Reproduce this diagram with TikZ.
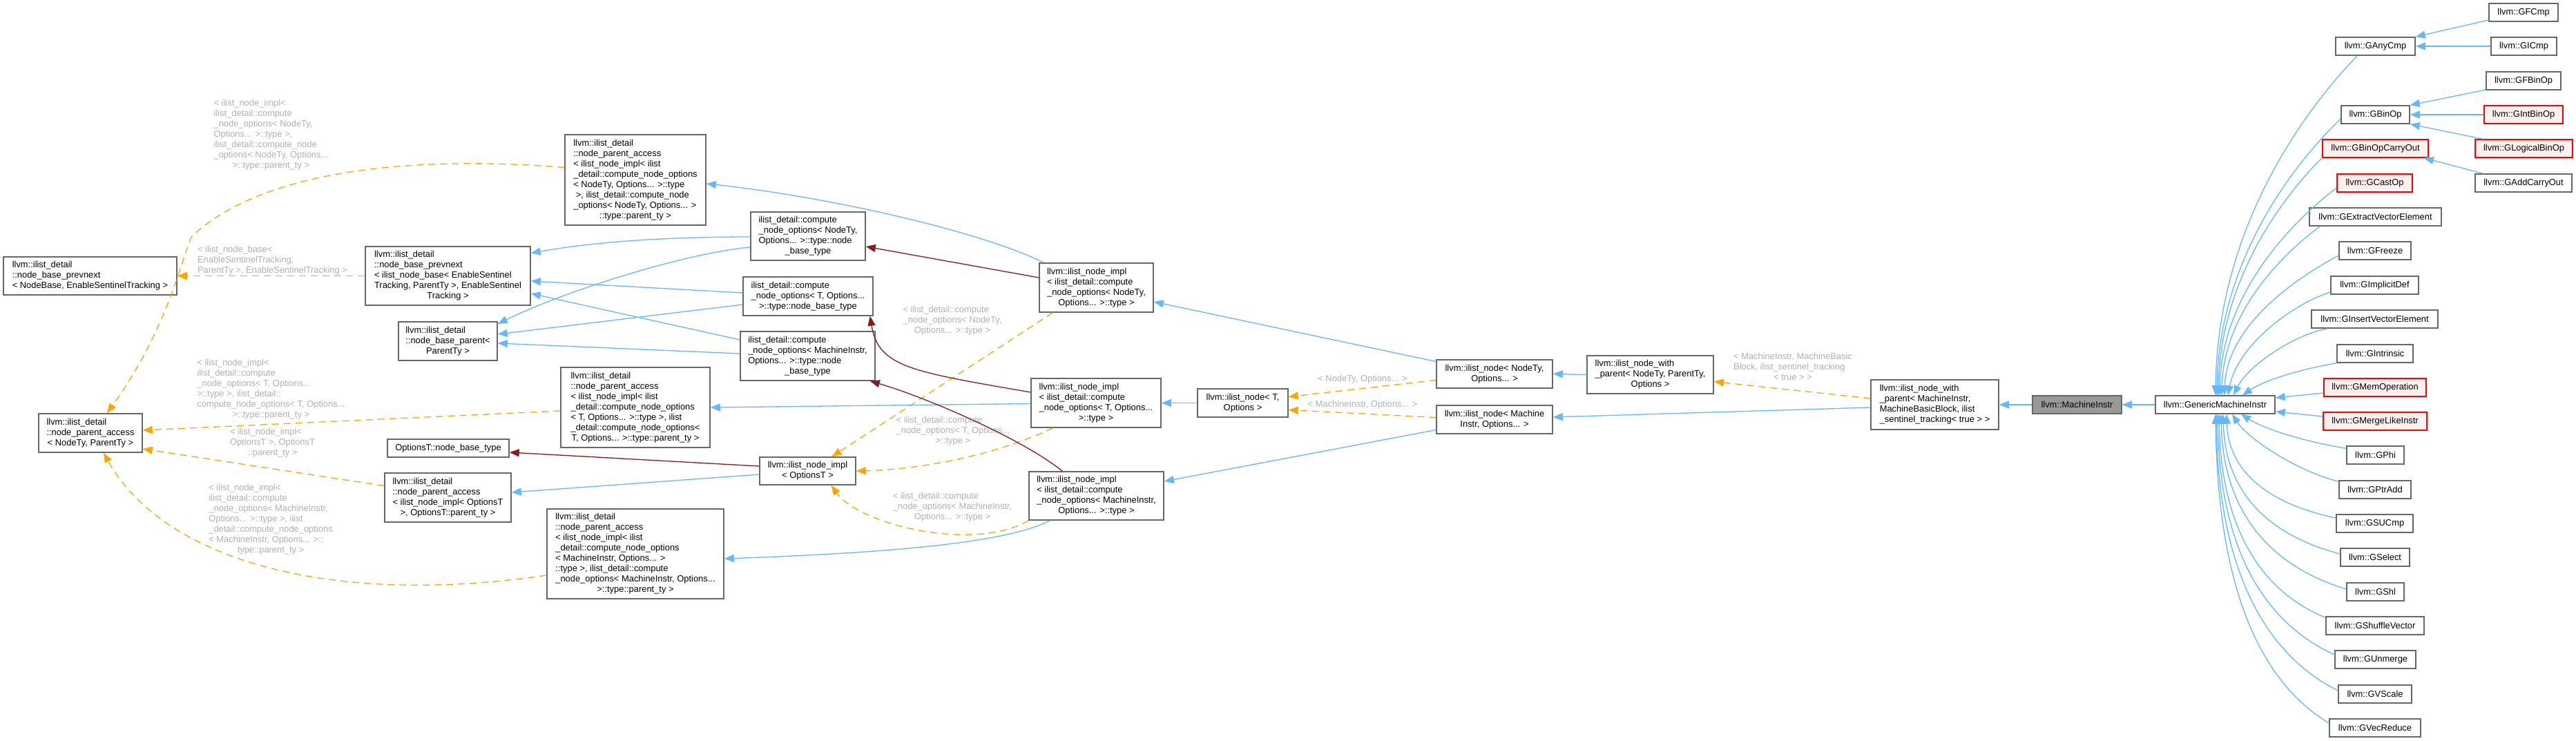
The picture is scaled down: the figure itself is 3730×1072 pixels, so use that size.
\documentclass[tikz,border=0pt]{standalone}
\usepackage{fontspec}
\setmainfont{Liberation Sans}
\usetikzlibrary{arrows.meta,calc}
\definecolor{edgeblue}{HTML}{63B8FF}
\definecolor{edgered}{HTML}{8B1A1A}
\definecolor{edgeorange}{HTML}{FFA500}
\definecolor{lblgray}{HTML}{B0B0B0}
\definecolor{boxgray}{HTML}{666666}
\definecolor{redfill}{HTML}{FFF0F0}
\definecolor{mifill}{HTML}{999999}
\newcommand{\mylast}[1]{\multicolumn{1}{@{}c@{}}{#1}}
\newcommand{\mylines}[1]{\begin{tabular}{@{}l@{}}#1\end{tabular}}
\newcommand{\gfont}{\fontsize{12.9}{15}\selectfont}
\tikzset{
 cls/.style={draw=boxgray, line width=1.5pt, fill=white, inner sep=0pt, font=\gfont, text=black},
 redcls/.style={cls, draw=red, fill=redfill},
 cur/.style={cls, fill=mifill},
 inh/.style={draw=edgeblue, line width=1.3pt, -{Triangle[length=14pt,width=11pt]}},
 usg/.style={draw=edgered, line width=1.3pt, -{Triangle[length=14pt,width=11pt]}},
 tmpl/.style={draw=edgeorange, line width=1.3pt, dash pattern=on 10pt off 7pt, -{Triangle[length=14pt,width=11pt]}},
 lbl/.style={font=\gfont, text=lblgray, inner sep=0pt},
}
\begin{document}
\begin{tikzpicture}[x=1pt,y=-1pt]
\useasboundingbox (0,0) rectangle (3730,1072);
\fill[white] (0,0) rectangle (3730,1072);

% ---------- nodes ----------
\node[cls, minimum width=251pt, minimum height=55pt] (prevnext) at (130.5,399.5) {\mylines{llvm::ilist\_detail\\::node\_base\_prevnext\\\mylast{< NodeBase, EnableSentinelTracking >}}};
\node[cls, minimum width=150pt, minimum height=56pt] (pa) at (131,627) {\mylines{llvm::ilist\_detail\\::node\_parent\_access\\\mylast{< NodeTy, ParentTy >}}};
\node[cls, minimum width=204pt, minimum height=131pt] (panodety) at (920,260.5) {\mylines{llvm::ilist\_detail\\::node\_parent\_access\\< ilist\_node\_impl< ilist\\\_detail::compute\_node\_options\\< NodeTy, Options... >::type\\\ >, ilist\_detail::compute\_node\\\_options< NodeTy, Options... >\\\mylast{::type::parent\_ty >}}};
\node[cls, minimum width=239pt, minimum height=85pt] (pn2) at (648.5,399.5) {\mylines{llvm::ilist\_detail\\::node\_base\_prevnext\\< ilist\_node\_base< EnableSentinel\\Tracking, ParentTy >, EnableSentinel\\\mylast{Tracking >}}};
\node[cls, minimum width=143pt, minimum height=56pt] (nbp) at (648.5,494) {\mylines{llvm::ilist\_detail\\::node\_base\_parent<\\\mylast{ParentTy >}}};
\node[cls, minimum width=166pt, minimum height=70pt] (cnonodety) at (1170,342) {\mylines{ilist\_detail::compute\\\_node\_options< NodeTy,\\Options... >::type::node\\\mylast{\_base\_type}}};
\node[cls, minimum width=188pt, minimum height=56pt] (cnot) at (1170,429) {\mylines{ilist\_detail::compute\\\_node\_options< T, Options...\\\mylast{>::type::node\_base\_type}}};
\node[cls, minimum width=195pt, minimum height=71pt] (cnomi) at (1169.5,515.5) {\mylines{ilist\_detail::compute\\\_node\_options< MachineInstr,\\Options... >::type::node\\\mylast{\_base\_type}}};
\node[cls, minimum width=216pt, minimum height=116pt] (pat) at (920,590) {\mylines{llvm::ilist\_detail\\::node\_parent\_access\\< ilist\_node\_impl< ilist\\\_detail::compute\_node\_options\\< T, Options... >::type >, ilist\\\_detail::compute\_node\_options<\\\mylast{T, Options... >::type::parent\_ty >}}};
\node[cls, minimum width=176pt, minimum height=26pt] (optnbt) at (649,649) {OptionsT::node\_base\_type};
\node[cls, minimum width=183pt, minimum height=71pt] (paoptt) at (648.5,720.5) {\mylines{llvm::ilist\_detail\\::node\_parent\_access\\< ilist\_node\_impl< OptionsT\\\mylast{>, OptionsT::parent\_ty >}}};
\node[cls, minimum width=256pt, minimum height=130pt] (pami) at (920,802) {\mylines{llvm::ilist\_detail\\::node\_parent\_access\\< ilist\_node\_impl< ilist\\\_detail::compute\_node\_options\\< MachineInstr, Options... >\\::type >, ilist\_detail::compute\\\_node\_options< MachineInstr, Options...\\\mylast{>::type::parent\_ty >}}};
\node[cls, minimum width=139pt, minimum height=40pt] (iniopt) at (1169.5,682) {\mylines{llvm::ilist\_node\_impl\\\mylast{< OptionsT >}}};
\node[cls, minimum width=165pt, minimum height=71pt] (ininodety) at (1587.5,416.5) {\mylines{llvm::ilist\_node\_impl\\< ilist\_detail::compute\\\_node\_options< NodeTy,\\\mylast{Options... >::type >}}};
\node[cls, minimum width=188pt, minimum height=71pt] (init) at (1587,583.5) {\mylines{llvm::ilist\_node\_impl\\< ilist\_detail::compute\\\_node\_options< T, Options...\\\mylast{>::type >}}};
\node[cls, minimum width=195pt, minimum height=70pt] (inimi) at (1587.5,718) {\mylines{llvm::ilist\_node\_impl\\< ilist\_detail::compute\\\_node\_options< MachineInstr,\\\mylast{Options... >::type >}}};
\node[cls, minimum width=131pt, minimum height=41pt] (ilnT) at (1799.5,583.5) {\mylines{llvm::ilist\_node< T,\\\mylast{Options >}}};
\node[cls, minimum width=168pt, minimum height=41pt] (innodety) at (2164,541.5) {\mylines{llvm::ilist\_node< NodeTy,\\\mylast{Options... >}}};
\node[cls, minimum width=168pt, minimum height=41pt] (inmi) at (2164,607.5) {\mylines{llvm::ilist\_node< Machine\\\mylast{Instr, Options... >}}};
\node[cls, minimum width=183pt, minimum height=55pt] (inwp) at (2389.5,542.5) {\mylines{llvm::ilist\_node\_with\\\_parent< NodeTy, ParentTy,\\\mylast{Options >}}};
\node[cls, minimum width=185pt, minimum height=72pt] (inwpmi) at (2801.5,586) {\mylines{llvm::ilist\_node\_with\\\_parent< MachineInstr,\\MachineBasicBlock, ilist\\\mylast{\_sentinel\_tracking< true > >}}};
\node[cur, minimum width=129pt, minimum height=26pt] (mi) at (3007.5,586) {llvm::MachineInstr};
\node[cls, minimum width=173pt, minimum height=26pt] (gmi) at (3207.5,586) {llvm::GenericMachineInstr};

\node[cls, minimum width=100pt, minimum height=26pt] (gfcmp) at (3654,18) {llvm::GFCmp};
\node[cls, minimum width=115pt, minimum height=26pt] (ganycmp) at (3439.5,67) {llvm::GAnyCmp};
\node[cls, minimum width=95pt, minimum height=26pt] (gicmp) at (3654.5,67) {llvm::GICmp};
\node[cls, minimum width=108pt, minimum height=26pt] (gfbinop) at (3654,117) {llvm::GFBinOp};
\node[cls, minimum width=99pt, minimum height=26pt] (gbinop) at (3439.5,166) {llvm::GBinOp};
\node[redcls, minimum width=114pt, minimum height=26pt] (gintbinop) at (3654,166) {llvm::GIntBinOp};
\node[redcls, minimum width=153pt, minimum height=26pt] (gbinopco) at (3439.5,215) {llvm::GBinOpCarryOut};
\node[redcls, minimum width=141pt, minimum height=26pt] (glogical) at (3654.5,215) {llvm::GLogicalBinOp};
\node[redcls, minimum width=109pt, minimum height=26pt] (gcastop) at (3438.5,265) {llvm::GCastOp};
\node[cls, minimum width=140pt, minimum height=26pt] (gaddco) at (3654,265) {llvm::GAddCarryOut};
\node[cls, minimum width=191pt, minimum height=26pt] (gextract) at (3439.5,314) {llvm::GExtractVectorElement};
\node[cls, minimum width=104pt, minimum height=26pt] (gfreeze) at (3439,363) {llvm::GFreeze};
\node[cls, minimum width=127pt, minimum height=26pt] (gimplicit) at (3438.5,413) {llvm::GImplicitDef};
\node[cls, minimum width=183pt, minimum height=26pt] (ginsert) at (3438.5,462) {llvm::GInsertVectorElement};
\node[cls, minimum width=110pt, minimum height=26pt] (gintrinsic) at (3439,512) {llvm::GIntrinsic};
\node[redcls, minimum width=148pt, minimum height=26pt] (gmemop) at (3439,561) {llvm::GMemOperation};
\node[redcls, minimum width=150pt, minimum height=26pt] (gmerge) at (3439,610) {llvm::GMergeLikeInstr};
\node[cls, minimum width=83pt, minimum height=26pt] (gphi) at (3439.5,659) {llvm::GPhi};
\node[cls, minimum width=104pt, minimum height=26pt] (gptradd) at (3439,709) {llvm::GPtrAdd};
\node[cls, minimum width=111pt, minimum height=26pt] (gsucmp) at (3438.5,758) {llvm::GSUCmp};
\node[cls, minimum width=100pt, minimum height=26pt] (gselect) at (3439,807) {llvm::GSelect};
\node[cls, minimum width=83pt, minimum height=26pt] (gshl) at (3439.5,857) {llvm::GShl};
\node[cls, minimum width=142pt, minimum height=26pt] (gshuffle) at (3439,906) {llvm::GShuffleVector};
\node[cls, minimum width=117pt, minimum height=26pt] (gunmerge) at (3439.5,955) {llvm::GUnmerge};
\node[cls, minimum width=106pt, minimum height=26pt] (gvscale) at (3439,1005) {llvm::GVScale};
\node[cls, minimum width=132pt, minimum height=26pt] (gvecreduce) at (3439,1054) {llvm::GVecReduce};

% ---------- edge labels ----------
\node[lbl] (l1) at (394.5,377.5) {\mylines{< ilist\_node\_base<\\EnableSentinelTracking,\\\mylast{ParentTy >, EnableSentinelTracking >}}};
\node[lbl] (l2) at (392.5,195.7) {\mylines{< ilist\_node\_impl<\\ilist\_detail::compute\\\_node\_options< NodeTy,\\Options... >::type >,\\ilist\_detail::compute\_node\\\_options< NodeTy, Options...\\\mylast{>::type::parent\_ty >}}};
\node[lbl] (l3) at (392.5,564) {\mylines{< ilist\_node\_impl<\\ilist\_detail::compute\\\_node\_options< T, Options...\\>::type >, ilist\_detail::\\compute\_node\_options< T, Options...\\\mylast{>::type::parent\_ty >}}};
\node[lbl] (l4) at (394.5,641.7) {\mylines{< ilist\_node\_impl<\\OptionsT >, OptionsT\\\mylast{::parent\_ty >}}};
\node[lbl] (l5) at (392,752.5) {\mylines{< ilist\_node\_impl<\\ilist\_detail::compute\\\_node\_options< MachineInstr,\\Options... >::type >, ilist\\\_detail::compute\_node\_options\\< MachineInstr, Options... >::\\\mylast{type::parent\_ty >}}};
\node[lbl] (l6) at (1379,464) {\mylines{< ilist\_detail::compute\\\_node\_options< NodeTy,\\\mylast{Options... >::type >}}};
\node[lbl] (l7) at (1380,624) {\mylines{< ilist\_detail::compute\\\_node\_options< T, Options...\\\mylast{>::type >}}};
\node[lbl] (l8) at (1379,734) {\mylines{< ilist\_detail::compute\\\_node\_options< MachineInstr,\\\mylast{Options... >::type >}}};
\node[lbl] (l9) at (1973,549) {< NodeTy, Options... >};
\node[lbl] (l10) at (1973,586.5) {< MachineInstr, Options... >};
\node[lbl] (l11) at (2596,532) {\mylines{< MachineInstr, MachineBasic\\Block, ilist\_sentinel\_tracking\\\mylast{< true > >}}};

% ---------- template instantiation edges (orange dashed) ----------
\draw[tmpl] (pn2.west) -- (prevnext.east);
\draw[tmpl] ($(panodety.west)+(0,-18)$) .. controls (600,225) and (380,245) .. (277,343) .. controls (262,380) and (240,480) .. ($(pa.north)+(24,0)$);
\draw[tmpl] ($(pat.west)+(0,5)$) -- ($(pa.east)+(0,-4)$);
\draw[tmpl] ($(paoptt.west)+(0,-17)$) -- ($(pa.east)+(0,23)$);
\draw[tmpl] ($(pami.west)+(0,31)$) .. controls (470,880) and (234,807) .. ($(pa.south)+(19,0)$);
\draw[tmpl] ($(ininodety.south west)+(20,0)$) -- ($(iniopt.north)+(35,0)$);
\draw[tmpl] ($(init.south west)+(32,0)$) .. controls (1440,660) and (1330,680) .. (iniopt.east);
\draw[tmpl] (inimi.south west) .. controls (1410,800) and (1245,760) .. ($(iniopt.south)+(34,0)$);
\draw[tmpl] ($(innodety.west)+(0,9)$) -- ($(ilnT.east)+(0,-9)$);
\draw[tmpl] ($(inmi.west)+(0,-3)$) -- ($(ilnT.east)+(0,10)$);
\draw[tmpl] ($(inwpmi.west)+(0,-9)$) -- ($(inwp.east)+(0,10)$);

% ---------- inheritance edges (blue) ----------
\draw[inh] ($(cnonodety.west)+(0,1)$) .. controls (950,343) and (850,352) .. ($(pn2.east)+(0,-33)$);
\draw[inh] ($(cnonodety.west)+(0,16)$) .. controls (1000,365) and (820,420) .. ($(nbp.east)+(0,-25)$);
\draw[inh] ($(cnot.west)+(0,-5)$) -- ($(pn2.east)+(0,7.5)$);
\draw[inh] ($(cnot.west)+(0,12)$) -- ($(nbp.east)+(0,-10)$);
\draw[inh] ($(cnomi.west)+(0,-23.5)$) -- ($(pn2.east)+(0,25.5)$);
\draw[inh] ($(cnomi.west)+(0,-3.5)$) -- ($(nbp.east)+(0,3)$);
\draw[inh] ($(ininodety.north west)+(7,0)$) .. controls (1420,335) and (1200,285) .. ($(panodety.east)+(0,5.5)$);
\draw[inh] ($(init.west)+(0,1)$) -- (pat.east);
\draw[inh] ($(iniopt.west)+(0,5)$) -- ($(paoptt.east)+(0,-7.5)$);
\draw[inh] ($(inimi.south west)+(31,0)$) .. controls (1460,785) and (1300,800) .. ($(pami.east)+(0,7)$);
\draw[inh] ($(innodety.west)+(0,-18)$) -- ($(ininodety.east)+(0,20.5)$);
\draw[inh] (ilnT.west) -- (init.east);
\draw[inh] ($(inmi.west)+(0,15)$) -- ($(inimi.east)+(0,-21)$);
\draw[inh] (inwp.west) -- (innodety.east);
\draw[inh] ($(inwpmi.west)+(0,4)$) -- ($(inmi.east)+(0,-3.5)$);
\draw[inh] (mi.west) -- (inwpmi.east);
\draw[inh] (gmi.west) -- (mi.east);

\draw[inh] ($(gfcmp.west)+(0,11)$) -- (ganycmp.north east);
\draw[inh] (gicmp.west) -- (ganycmp.east);
\draw[inh] ($(gfbinop.west)+(0,13)$) -- (gbinop.north east);
\draw[inh] (gintbinop.west) -- (gbinop.east);
\draw[inh] ($(glogical.north west)+(12,0)$) -- (gbinop.south east);
\draw[inh] ($(gaddco.north west)+(12,0)$) -- ($(gbinopco.south east)+(-7,0)$);

\draw[inh] ($(ganycmp.south west)+(32,0)$) .. controls (3342,154) and (3211,325) .. ($(gmi.north)+(0.5,0)$);
\draw[inh] ($(gbinop.west)+(0,6)$) .. controls (3327,232) and (3213,371) .. ($(gmi.north)+(2.5,0)$);
\draw[inh] (gbinopco.south west) .. controls (3311,279) and (3215,400) .. ($(gmi.north)+(4.5,0)$);
\draw[inh] ($(gcastop.west)+(0,7)$) .. controls (3324,317) and (3217,421) .. ($(gmi.north)+(6.5,0)$);
\draw[inh] ($(gextract.south west)+(16,0)$) .. controls (3310,364) and (3220,449) .. ($(gmi.north)+(9.5,0)$);
\draw[inh] ($(gfreeze.west)+(0,7)$) .. controls (3329,400) and (3224,470) .. ($(gmi.north)+(13.5,0)$);
\draw[inh] ($(gimplicit.west)+(0,10)$) .. controls (3320,440) and (3240,500) .. ($(gmi.north)+(18.5,0)$);
\draw[inh] ($(ginsert.south west)+(24,0)$) .. controls (3320,485) and (3255,530) .. ($(gmi.north)+(26.5,0)$);
\draw[inh] (gintrinsic.south west) .. controls (3330,535) and (3280,550) .. ($(gmi.north)+(39.5,0)$);
\draw[inh] ($(gmemop.west)+(0,8)$) -- ($(gmi.east)+(0,-10)$);
\draw[inh] ($(gmerge.west)+(0,-7)$) -- ($(gmi.east)+(0,10)$);
\draw[inh] ($(gphi.north west)+(0,4)$) .. controls (3340,640) and (3280,622) .. ($(gmi.south)+(37.5,0)$);
\draw[inh] ($(gptradd.north west)+(0,2)$) .. controls (3325,682) and (3255,635) .. ($(gmi.south)+(24.5,0)$);
\draw[inh] ($(gsucmp.west)+(0,-8)$) .. controls (3296,732) and (3227,690) .. ($(gmi.south)+(16.5,0)$);
\draw[inh] ($(gselect.west)+(0,-5)$) .. controls (3296,778) and (3222,722) .. ($(gmi.south)+(11.5,0)$);
\draw[inh] ($(gshl.west)+(0,-4)$) .. controls (3298,823) and (3219,752) .. ($(gmi.south)+(8.5,0)$);
\draw[inh] ($(gshuffle.north west)+(0,2)$) .. controls (3283,860) and (3216,777) .. ($(gmi.south)+(5.5,0)$);
\draw[inh] ($(gunmerge.west)+(0,-7)$) .. controls (3288,906) and (3214,809) .. ($(gmi.south)+(3.5,0)$);
\draw[inh] ($(gvscale.west)+(0,-5)$) .. controls (3289,952) and (3212,840) .. ($(gmi.south)+(1.5,0)$);
\draw[inh] ($(gvecreduce.west)+(0,-7)$) .. controls (3282,993) and (3211,869) .. ($(gmi.south)+(0.5,0)$);

% ---------- usage edges (dark red) ----------
\draw[usg] ($(ininodety.west)+(0,-14.5)$) -- ($(cnonodety.east)+(0,15)$);
\draw[usg] ($(init.west)+(0,-15.5)$) .. controls (1320,538) and (1272,532) .. ($(cnot.south east)+(-5,0)$);
\draw[usg] ($(inimi.north west)+(49,0)$) .. controls (1480,635) and (1340,575) .. ($(cnomi.south east)+(-8,0)$);
\draw[usg] ($(iniopt.west)+(0,-7)$) -- ($(optnbt.east)+(0,6)$);
\end{tikzpicture}
\end{document}
